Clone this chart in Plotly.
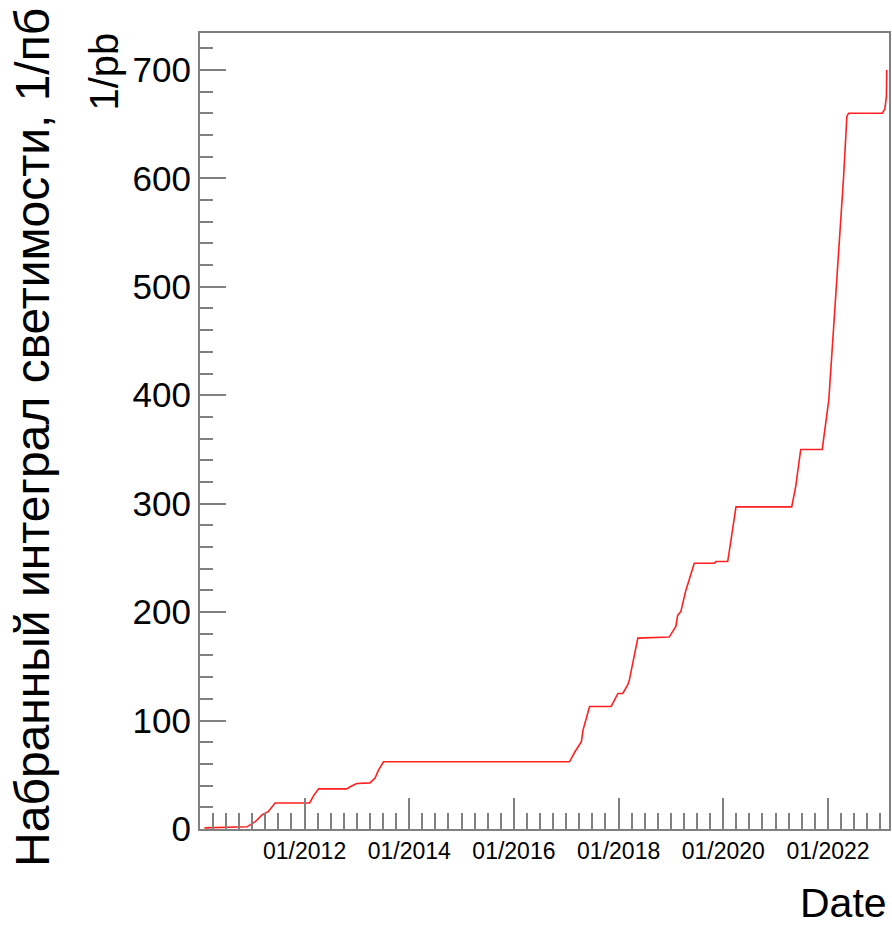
import plotly.graph_objects as go

# ---- data ----
dates = [
    "2010-02-01", "2010-11-25", "2011-01-22", "2011-03-10", "2011-04-22", "2011-06-09",
    "2012-02-05", "2012-03-05", "2012-04-08", "2012-10-22", "2012-11-14", "2012-12-30",
    "2013-04-01", "2013-05-07", "2013-05-30", "2013-07-05", "2017-01-23", "2017-03-01",
    "2017-04-16", "2017-04-27", "2017-06-12", "2017-11-10", "2017-12-27", "2018-01-30",
    "2018-03-06", "2018-03-17", "2018-05-15", "2018-12-20", "2019-02-05", "2019-02-17",
    "2019-03-11", "2019-04-15", "2019-06-13", "2019-10-30", "2019-11-11", "2020-02-01",
    "2020-02-25", "2020-03-30", "2021-04-23", "2021-05-21", "2021-06-25", "2021-11-22",
    "2022-01-07", "2022-03-02", "2022-03-30", "2022-04-19", "2022-05-13", "2022-05-25",
    "2023-01-15", "2023-02-02", "2023-02-13", "2023-02-15",
]
lumi = [
    1, 2, 6.7, 13, 16, 24,
    24, 31, 37, 37, 39, 42,
    42.5, 47, 54, 62, 62, 71,
    80.5, 91, 113, 113, 125, 125,
    133, 137.5, 176, 177, 187, 197,
    200.5, 220, 245, 245, 246.6, 246.6,
    267, 297, 297, 316, 350, 350,
    396, 506, 553, 599, 657, 660,
    660, 664, 675.5, 700,
]

x_tickvals = ["2012-01-01", "2014-01-01", "2016-01-01", "2018-01-01", "2020-01-01", "2022-01-01"]
x_ticktext = ["01/2012", "01/2014", "01/2016", "01/2018", "01/2020", "01/2022"]
y_tickvals = [0, 100, 200, 300, 400, 500, 600, 700]

y_title = "Набранный интеграл светимости, 1/пб"
y_unit = "1/pb"
x_title = "Date"

FONT = "Liberation Sans, Arial, sans-serif"
AXC = "#808080"

fig = go.Figure()
fig.add_trace(go.Scatter(
    x=dates, y=lumi, mode="lines",
    line=dict(color="#ff2020", width=1.6),
    showlegend=False,
))

fig.update_layout(
    width=892, height=925,
    margin=dict(l=200, r=3, t=33, b=96, autoexpand=False),
    paper_bgcolor="white", plot_bgcolor="white",
    font=dict(family=FONT, color="black"),
    xaxis=dict(
        type="date",
        range=["2010-01-01", "2023-03-03"],
        tickmode="array", tickvals=x_tickvals, ticktext=x_ticktext,
        tickfont=dict(size=23, family=FONT, color="black"),
        ticks="inside", ticklen=31, tickwidth=2, tickcolor=AXC,
        minor=dict(tickmode="linear", tick0="2010-01-01", dtick="M3",
                   ticks="inside", ticklen=16, tickwidth=2, tickcolor=AXC, showgrid=False),
        showline=True, linecolor=AXC, linewidth=2, mirror=True,
        showgrid=False, zeroline=False, automargin=False,
    ),
    yaxis=dict(
        range=[0, 734],
        tickmode="array", tickvals=y_tickvals,
        tickfont=dict(size=35, family=FONT, color="black"),
        ticks="inside", ticklen=26, tickwidth=2, tickcolor=AXC,
        minor=dict(tickmode="linear", tick0=0, dtick=20,
                   ticks="inside", ticklen=13, tickwidth=2, tickcolor=AXC, showgrid=False),
        showline=True, linecolor=AXC, linewidth=2, mirror=True,
        showgrid=False, zeroline=False, automargin=False,
    ),
    annotations=[
        dict(text=y_title, textangle=-90, xref="paper", yref="paper",
             x=-0.2424, y=0.4925, xanchor="center", yanchor="middle",
             showarrow=False, font=dict(size=48, family=FONT, color="black")),
        dict(text=y_unit, textangle=-90, xref="paper", yref="paper",
             x=-0.140, y=0.951, xanchor="center", yanchor="middle",
             showarrow=False, font=dict(size=40, family=FONT, color="black")),
        dict(text=x_title, xref="paper", yref="paper",
             x=1.0, y=-0.093, xanchor="right", yanchor="middle",
             showarrow=False, font=dict(size=41, family=FONT, color="black")),
    ],
)

fig.write_html("out.html")
